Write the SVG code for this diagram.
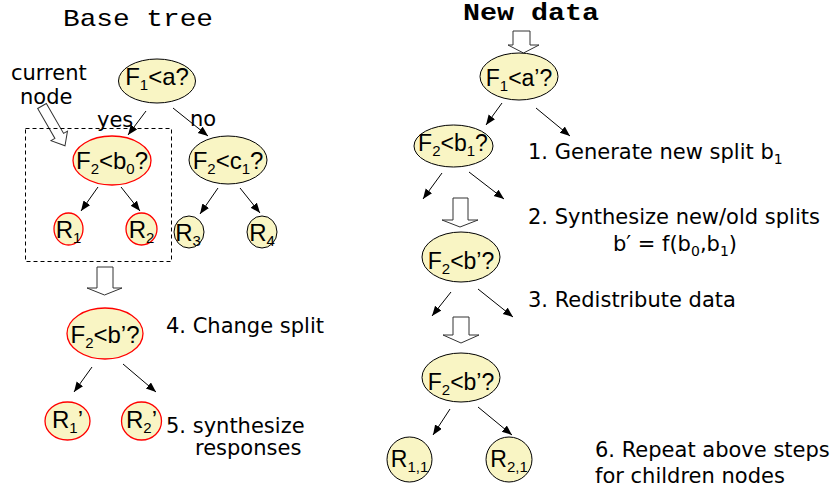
<svg xmlns="http://www.w3.org/2000/svg" width="831" height="487" viewBox="0 0 831 487">
<defs>
<marker id="ah" markerUnits="userSpaceOnUse" markerWidth="11" markerHeight="9" refX="10" refY="4" orient="auto">
<path d="M0,0 L10,4 L0,8 z" fill="#000"/>
</marker>
<style>
.node{fill:#F9F5C4;stroke:#000;stroke-width:1}
.red{fill:#F9F5C4;stroke:#FF0000;stroke-width:1.3}
.nt{font-family:"Liberation Sans",Arial,sans-serif;font-size:24px;fill:#000;text-anchor:middle}
.nr{font-family:"Liberation Sans",Arial,sans-serif;font-size:23px;fill:#000;text-anchor:middle}
.sub{font-size:15px}
.lbl{font-family:"DejaVu Sans",Verdana,sans-serif;font-size:21px;fill:#000}
.mono{font-family:"Liberation Mono","Courier New",monospace;font-size:24px;fill:#000}
.conn line{stroke:#000;stroke-width:1;marker-end:url(#ah)}
.blk{fill:#fff;stroke:#333;stroke-width:1}
</style>
</defs>
<rect width="831" height="487" fill="#fff"/>

<text class="mono" x="63" y="26" textLength="150" lengthAdjust="spacingAndGlyphs">Base tree</text>
<text class="mono" x="463" y="20" font-size="18" font-weight="bold" textLength="136" lengthAdjust="spacingAndGlyphs">New data</text>

<g id="current-label">
<text class="lbl" x="11" y="80" font-size="20.5">current</text>
<text class="lbl" x="20" y="104" font-size="20.5">node</text>
<polygon class="blk" transform="translate(42,106) rotate(-30)" points="-5,0 5,0 5,34.5 9.5,34.5 0,46 -9.5,34.5 -5,34.5"/>
</g>
<rect id="current-box" x="25.5" y="128.5" width="146" height="133" fill="none" stroke="#000" stroke-width="1" stroke-dasharray="4,3"/>

<g class="conn" id="connectors">
<line x1="146" y1="111" x2="128" y2="135"/>
<line x1="173" y1="108" x2="208" y2="136"/>
<line x1="98" y1="187" x2="81" y2="211"/>
<line x1="121" y1="187" x2="140" y2="211"/>
<line x1="218" y1="188" x2="200" y2="214"/>
<line x1="240" y1="188" x2="260" y2="213"/>
<line x1="92" y1="367" x2="74" y2="392"/>
<line x1="123" y1="364" x2="156" y2="392"/>
<line x1="502" y1="103" x2="486" y2="125"/>
<line x1="536" y1="108" x2="570" y2="136"/>
<line x1="442" y1="173" x2="423" y2="199"/>
<line x1="469" y1="172" x2="504" y2="199"/>
<line x1="451" y1="292" x2="432" y2="316"/>
<line x1="478" y1="289" x2="513" y2="317"/>
<line x1="450" y1="409" x2="433" y2="435"/>
<line x1="478" y1="407" x2="512" y2="435"/>
</g>

<g id="block-arrows">
<polygon class="blk" points="97,267 113,267 113,288 122,288 104.5,295 87,288 97,288"/>
<polygon class="blk" points="513,31 530,31 530,45 539,45 523.5,53 508,45 513,45"/>
<polygon class="blk" points="453,198 468,198 468,220 478,220 460,227 442,220 453,220"/>
<polygon class="blk" points="453,317 469,317 469,335 479,335 461,343 443,335 453,335"/>
</g>

<text class="lbl" x="97" y="127" font-size="20">yes</text>
<text class="lbl" x="190" y="126" font-size="20">no</text>

<g id="n-f1a">
<ellipse class="node" cx="157" cy="81" rx="38.5" ry="22"/>
<text class="nt" x="157" y="85">F<tspan class="sub" dy="5">1</tspan><tspan dy="-5">&lt;a?</tspan></text>
</g>
<g id="n-f2b0">
<ellipse class="red" cx="112" cy="160.5" rx="39" ry="24.5"/>
<text class="nt" x="112" y="169">F<tspan class="sub" dy="5">2</tspan><tspan dy="-5">&lt;b</tspan><tspan class="sub" dy="5">0</tspan><tspan dy="-5">?</tspan></text>
</g>
<g id="n-f2c1">
<ellipse class="node" cx="228" cy="160" rx="39" ry="24"/>
<text class="nt" x="228" y="169">F<tspan class="sub" dy="5">2</tspan><tspan dy="-5">&lt;c</tspan><tspan class="sub" dy="5">1</tspan><tspan dy="-5">?</tspan></text>
</g>
<g id="n-r1">
<ellipse class="red" cx="68.5" cy="229" rx="14.5" ry="16"/>
<text class="nt" x="68.5" y="238" font-size="23">R<tspan class="sub" dy="5">1</tspan></text>
</g>
<g id="n-r2">
<ellipse class="red" cx="141.5" cy="229" rx="15.5" ry="16"/>
<text class="nt" x="141.5" y="238" font-size="23">R<tspan class="sub" dy="5">2</tspan></text>
</g>
<g id="n-r3">
<ellipse class="node" cx="189" cy="232" rx="15" ry="16"/>
<text class="nt" x="188" y="241" font-size="23">R<tspan class="sub" dy="5">3</tspan></text>
</g>
<g id="n-r4">
<ellipse class="node" cx="262" cy="232" rx="15" ry="16"/>
<text class="nt" x="262" y="241" font-size="23">R<tspan class="sub" dy="5">4</tspan></text>
</g>

<g id="n-f2bp-left">
<ellipse class="red" cx="105" cy="333.5" rx="38" ry="25.5"/>
<text class="nt" x="105" y="343" font-size="23">F<tspan class="sub" dy="5">2</tspan><tspan dy="-5">&lt;b’?</tspan></text>
</g>
<g id="n-r1p">
<ellipse class="red" cx="67.5" cy="421" rx="22.5" ry="19"/>
<text class="nt" x="67.5" y="428" font-size="22">R<tspan class="sub" dy="5">1</tspan><tspan dy="-5">’</tspan></text>
</g>
<g id="n-r2p">
<ellipse class="red" cx="141.5" cy="421" rx="20" ry="19"/>
<text class="nt" x="141.5" y="428" font-size="22">R<tspan class="sub" dy="5">2</tspan><tspan dy="-5">’</tspan></text>
</g>

<text class="lbl" x="166" y="333">4. Change split</text>
<text class="lbl" x="166" y="433">5. synthesize</text>
<text class="lbl" x="195" y="455">responses</text>

<g id="n-f1ap">
<ellipse class="node" cx="519" cy="76.5" rx="39" ry="23.5"/>
<text class="nr" x="519" y="86">F<tspan class="sub" dy="5">1</tspan><tspan dy="-5">&lt;a’?</tspan></text>
</g>
<g id="n-f2b1">
<ellipse class="node" cx="453.5" cy="146" rx="39.5" ry="21"/>
<text class="nr" x="453" y="151">F<tspan class="sub" dy="5">2</tspan><tspan dy="-5">&lt;b</tspan><tspan class="sub" dy="5">1</tspan><tspan dy="-5">?</tspan></text>
</g>
<g id="n-f2bp-mid">
<ellipse class="node" cx="461" cy="257" rx="39" ry="25"/>
<text class="nr" x="461" y="269">F<tspan class="sub" dy="5">2</tspan><tspan dy="-5">&lt;b’?</tspan></text>
</g>
<g id="n-f2bp-bot">
<ellipse class="node" cx="461" cy="377.5" rx="39" ry="24.5"/>
<text class="nr" x="461" y="390">F<tspan class="sub" dy="5">2</tspan><tspan dy="-5">&lt;b’?</tspan></text>
</g>
<g id="n-r11">
<ellipse class="node" cx="409.5" cy="459.5" rx="22.5" ry="22.5"/>
<text class="nr" x="409.5" y="467" font-size="22">R<tspan class="sub" dy="5">1,1</tspan></text>
</g>
<g id="n-r21">
<ellipse class="node" cx="509" cy="459.5" rx="23" ry="22.5"/>
<text class="nr" x="509" y="467" font-size="22">R<tspan class="sub" dy="5">2,1</tspan></text>
</g>

<text class="lbl" x="528" y="159">1. Generate new split b<tspan font-size="14" dy="5">1</tspan></text>
<text class="lbl" x="528" y="224">2. Synthesize new/old splits</text>
<text class="lbl" x="675" y="251" text-anchor="middle">b′ = f(b<tspan font-size="14" dy="5">0</tspan><tspan dy="-5">,b</tspan><tspan font-size="14" dy="5">1</tspan><tspan dy="-5">)</tspan></text>
<text class="lbl" x="528" y="307">3. Redistribute data</text>
<text class="lbl" x="595" y="457">6. Repeat above steps</text>
<text class="lbl" x="595" y="483">for children nodes</text>
</svg>
